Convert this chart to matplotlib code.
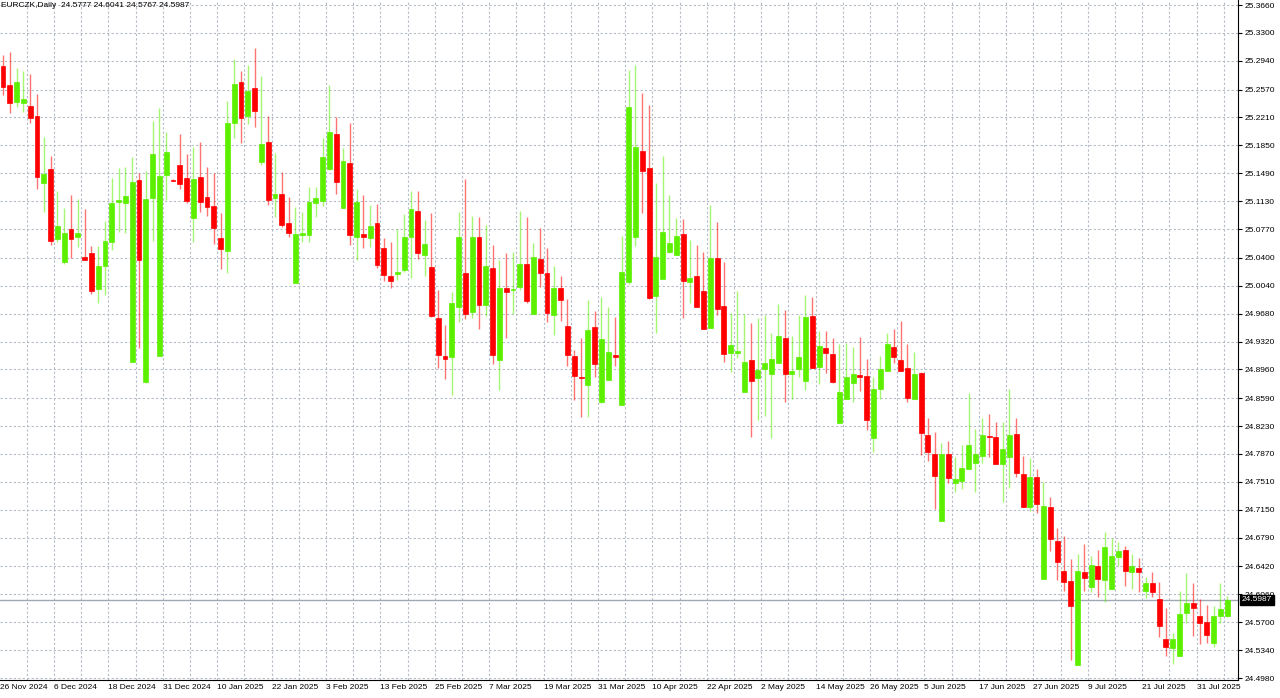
import matplotlib
matplotlib.use("Agg")
import matplotlib.pyplot as plt
from matplotlib.patches import Rectangle

opens = [25.287,25.263,25.241,25.240,25.236,25.223,25.136,25.154,25.064,25.034,
         25.077,25.067,25.041,25.046,25.000,25.029,25.060,25.112,25.111,24.906,
         25.140,24.880,25.117,24.913,25.147,25.140,25.160,25.143,25.091,25.144,
         25.118,25.107,25.065,25.049,25.214,25.267,25.223,25.259,25.164,25.189,
         25.117,25.122,25.085,25.007,25.069,25.069,25.111,25.113,25.154,25.200,
         25.104,25.162,25.067,25.071,25.065,25.085,25.053,25.016,25.019,25.024,
         25.067,25.100,25.044,25.028,24.962,24.913,24.912,24.976,25.020,24.970,
         25.067,24.979,25.027,24.908,25.001,24.998,25.002,25.032,24.967,25.038,
         25.020,24.966,25.001,24.952,24.913,24.886,24.876,24.951,24.854,24.882,
         24.915,24.850,25.009,25.067,25.178,25.156,24.991,25.013,25.047,25.044,
         25.071,25.009,25.016,24.997,24.949,25.040,24.978,24.917,24.917,24.867,
         24.908,24.885,24.896,24.890,24.904,24.936,24.890,24.896,24.881,24.965,
         24.899,24.924,24.916,24.827,24.858,24.878,24.889,24.887,24.807,24.871,
         24.894,24.925,24.908,24.898,24.858,24.891,24.811,24.787,24.700,24.787,
         24.749,24.752,24.767,24.776,24.784,24.810,24.809,24.774,24.783,24.813,
         24.761,24.718,24.757,24.626,24.718,24.675,24.636,24.623,24.515,24.635,
         24.615,24.642,24.624,24.613,24.654,24.663,24.635,24.640,24.610,24.620,
         24.600,24.548,24.537,24.526,24.582,24.595,24.578,24.570,24.543,24.578,
         24.5777]
highs = [25.302,25.305,25.285,25.281,25.277,25.251,25.196,25.171,25.126,25.104,
         25.121,25.116,25.103,25.055,25.055,25.087,25.143,25.156,25.157,25.170,
         25.149,25.152,25.216,25.233,25.202,25.142,25.200,25.174,25.183,25.189,
         25.157,25.149,25.098,25.242,25.296,25.281,25.289,25.311,25.274,25.223,
         25.175,25.151,25.118,25.105,25.099,25.131,25.131,25.194,25.263,25.222,
         25.182,25.214,25.129,25.121,25.108,25.109,25.065,25.060,25.077,25.096,
         25.126,25.126,25.089,25.098,24.998,24.953,24.996,25.099,25.142,25.094,
         25.093,25.082,25.056,25.037,25.046,25.047,25.100,25.093,25.059,25.078,
         25.053,25.029,25.016,24.987,24.921,24.936,24.985,24.971,24.989,24.976,
         24.964,25.068,25.282,25.289,25.253,25.237,25.136,25.171,25.121,25.091,
         25.090,25.063,25.056,25.047,25.108,25.086,25.034,24.969,24.997,24.967,
         24.956,24.962,24.966,24.943,24.980,24.973,24.939,24.966,24.992,24.989,
         24.946,24.946,24.936,24.929,24.930,24.925,24.938,24.909,24.886,24.913,
         24.943,24.948,24.958,24.929,24.918,24.893,24.833,24.815,24.801,24.804,
         24.783,24.798,24.866,24.819,24.833,24.838,24.828,24.828,24.871,24.833,
         24.784,24.782,24.767,24.751,24.731,24.691,24.681,24.651,24.658,24.671,
         24.655,24.663,24.687,24.678,24.673,24.668,24.658,24.653,24.628,24.635,
         24.622,24.588,24.556,24.610,24.633,24.620,24.600,24.592,24.591,24.620,
         24.6041]
lows = [25.250,25.227,25.234,25.228,25.214,25.129,25.099,25.056,25.060,25.032,
        25.040,25.054,25.037,24.993,24.982,24.992,25.050,25.073,25.072,24.906,
        24.924,24.878,25.062,24.913,25.115,25.139,25.129,25.111,25.060,25.099,
        25.094,25.058,25.025,25.020,25.194,25.188,25.213,25.209,25.160,25.108,
        25.093,25.080,25.067,25.007,25.060,25.060,25.093,25.107,25.153,25.122,
        25.104,25.056,25.037,25.053,25.054,25.027,25.010,25.001,25.011,25.022,
        25.014,25.038,25.016,24.964,24.898,24.884,24.863,24.957,24.961,24.962,
        24.948,24.965,24.903,24.869,24.936,24.967,24.998,24.982,24.967,25.002,
        24.957,24.940,24.958,24.900,24.857,24.835,24.835,24.886,24.853,24.882,
        24.900,24.850,25.006,25.055,25.098,24.987,24.943,25.013,25.046,25.044,
        24.962,24.982,24.976,24.948,24.949,24.966,24.906,24.893,24.911,24.867,
        24.809,24.831,24.836,24.807,24.904,24.854,24.858,24.886,24.869,24.898,
        24.877,24.891,24.878,24.827,24.858,24.854,24.868,24.818,24.789,24.858,
        24.894,24.904,24.894,24.854,24.858,24.786,24.778,24.716,24.700,24.749,
        24.738,24.742,24.767,24.738,24.776,24.783,24.774,24.725,24.743,24.757,
        24.718,24.713,24.711,24.626,24.662,24.624,24.610,24.521,24.515,24.610,
        24.609,24.602,24.596,24.613,24.642,24.617,24.613,24.609,24.601,24.602,
        24.551,24.526,24.516,24.526,24.569,24.552,24.542,24.543,24.538,24.569,
        24.5767]
closes = [25.260,25.240,25.267,25.245,25.220,25.144,25.148,25.062,25.081,25.072,
          25.064,25.072,25.037,24.997,25.029,25.062,25.111,25.115,25.120,25.138,
          25.037,25.116,25.174,25.145,25.176,25.139,25.135,25.113,25.142,25.112,
          25.105,25.078,25.051,25.214,25.264,25.220,25.255,25.229,25.187,25.115,
          25.122,25.082,25.072,25.071,25.072,25.112,25.117,25.170,25.202,25.138,
          25.165,25.069,25.112,25.067,25.081,25.031,25.018,25.010,25.022,25.067,
          25.103,25.046,25.058,24.965,24.915,24.909,24.982,25.067,24.967,25.067,
          24.979,25.029,24.915,25.001,24.996,25.000,25.032,24.984,25.041,25.020,
          24.969,25.001,24.985,24.915,24.887,24.885,24.947,24.903,24.935,24.918,
          24.912,25.022,25.234,25.183,25.152,24.988,25.041,25.073,25.059,25.068,
          25.010,25.014,24.976,24.948,25.040,24.974,24.916,24.927,24.920,24.906,
          24.881,24.895,24.904,24.909,24.939,24.890,24.894,24.912,24.964,24.898,
          24.926,24.917,24.880,24.867,24.886,24.890,24.886,24.831,24.871,24.896,
          24.929,24.912,24.894,24.859,24.890,24.814,24.789,24.758,24.787,24.756,
          24.755,24.769,24.798,24.787,24.811,24.809,24.774,24.793,24.811,24.762,
          24.718,24.757,24.722,24.720,24.677,24.648,24.622,24.591,24.636,24.627,
          24.644,24.626,24.667,24.655,24.662,24.636,24.642,24.635,24.620,24.609,
          24.565,24.538,24.548,24.580,24.595,24.589,24.569,24.553,24.578,24.587,
          24.5987]

date_labels = ["26 Nov 2024","6 Dec 2024","18 Dec 2024","31 Dec 2024","10 Jan 2025",
               "22 Jan 2025","3 Feb 2025","13 Feb 2025","25 Feb 2025","7 Mar 2025",
               "19 Mar 2025","31 Mar 2025","10 Apr 2025","22 Apr 2025","2 May 2025",
               "14 May 2025","26 May 2025","5 Jun 2025","17 Jun 2025","27 Jun 2025",
               "9 Jul 2025","21 Jul 2025","31 Jul 2025"]
price_ticks = [25.3660,25.3300,25.2940,25.2570,25.2210,25.1850,25.1490,25.1130,25.0770,
               25.0400,25.0040,24.9680,24.9320,24.8960,24.8590,24.8230,24.7870,24.7510,
               24.7150,24.6790,24.6420,24.6060,24.5700,24.5340,24.4980]
last_price = 24.5987
title = "EURCZK,Daily  24.5777 24.6041 24.5767 24.5987"

GREEN = "#5cf000"
RED = "#ff0000"
GRID = "#b4bac6"
FONT = "Liberation Sans"

fig = plt.figure(figsize=(12.8, 6.98), dpi=100)
ax = fig.add_axes([0.0, 18/698, 1238/1280, 680/698])
n = len(opens)
ax.set_xlim(-0.44, 181.6)
ax.set_ylim(24.4955, 25.3725)

for t in price_ticks:
    ax.axhline(t, color=GRID, lw=0.8, ls=(0, (2, 2)), zorder=0)
for k in range(0, 46):
    ax.axvline(3.5 + 4 * k, color=GRID, lw=0.8, ls=(0, (2, 2)), zorder=0)

bw = 0.72
for i in range(n):
    o, h, l, c = opens[i], highs[i], lows[i], closes[i]
    col = GREEN if c >= o else RED
    ax.plot([i, i], [l, h], color=col, lw=1.0, alpha=0.55, zorder=2, solid_capstyle="butt")
    lo, hi = min(o, c), max(o, c)
    ax.add_patch(Rectangle((i - bw / 2, lo), bw, max(hi - lo, 0.0015),
                           facecolor=col, edgecolor=col, lw=0.5, zorder=3))

ax.axhline(last_price, color="#a0a8b4", lw=1.0, zorder=1)

ax.yaxis.tick_right()
ax.set_yticks(price_ticks)
ax.set_yticklabels([f"{t:.4f}" for t in price_ticks], fontsize=6, family=FONT)
ax.tick_params(axis="y", direction="out", length=3, pad=2, colors="black")
ax.set_xticks([])
for k, lab in enumerate(date_labels):
    ax.text(8 * k - 0.5, -0.006, lab, transform=ax.get_xaxis_transform(),
            ha="left", va="top", fontsize=6, family=FONT, clip_on=False)
for s in ["top", "left"]:
    ax.spines[s].set_visible(False)
ax.spines["right"].set_color("black")
ax.spines["bottom"].set_color("black")

ax.text(1.003, last_price, f"{last_price:.4f}", transform=ax.get_yaxis_transform(),
        ha="left", va="center", fontsize=6, family=FONT, color="white",
        bbox=dict(boxstyle="square,pad=0.2", fc="black", ec="black"), clip_on=False, zorder=5)

ax.text(0.001, 0.997, title, transform=ax.transAxes, ha="left", va="top", fontsize=6, family=FONT)

fig.savefig("out.png", dpi=100, facecolor="white")
